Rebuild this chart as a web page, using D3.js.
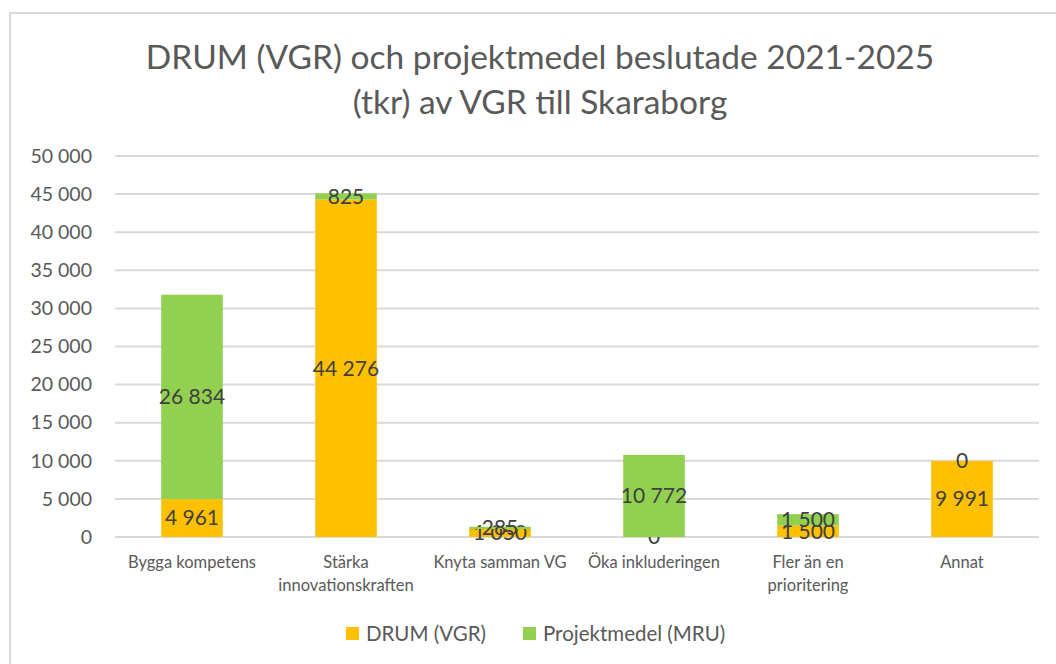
<!DOCTYPE html>
<html>
<head>
<meta charset="utf-8">
<script src="https://cdn.jsdelivr.net/npm/d3@7"></script>
<style>
  body { margin: 0; background: #fff; }
  text { font-family: Lato, "Open Sans", sans-serif; }
</style>
</head>
<body>
<div id="chart"></div>
<script>
(function() {
  var width = 1056,
      height = 664;

  // data (tkr)
  var categories = ["Bygga kompetens", "Stärka innovationskraften", "Knyta samman VG",
                    "Öka inkluderingen", "Fler än en prioritering", "Annat"];
  var drum = [4961, 44276, 1050, 0, 1500, 9991];
  var projektmedel = [26834, 825, 285, 10772, 1500, 0];
  var seriesNames = ["DRUM (VGR)", "Projektmedel (MRU)"];
  var colors = ["#FFC000", "#92D050"];
  var yTicks = [0, 5000, 10000, 15000, 20000, 25000, 30000, 35000, 40000, 45000, 50000];

  var locale = d3.formatLocale({decimal: ",", thousands: "\u00a0", grouping: [3], currency: ["", " kr"]});
  var fmt = locale.format(",d");

  var svg = d3.select("#chart")
    .append("svg")
    .attr("width", width)
    .attr("height", height);

  // chart area border
  svg.append("rect")
    .attr("x", 10)
    .attr("y", 13)
    .attr("width", 1080)
    .attr("height", 700)
    .attr("fill", "#fff")
    .attr("stroke", "#D9D9D9")
    .attr("stroke-width", 2);

  // title
  var title = svg.append("text")
    .attr("text-anchor", "middle")
    .attr("fill", "#595959")
    .style("font-size", "33.5px");
  title.append("tspan").attr("x", 540).attr("y", 69).text("DRUM (VGR) och projektmedel  beslutade 2021-2025");
  title.append("tspan").attr("x", 540).attr("y", 114).text("(tkr) av VGR till Skaraborg");

  var x = d3.scaleBand()
    .domain(categories)
    .range([115, 1039])
    .paddingInner(0.6)
    .paddingOuter(0.3);

  var y = d3.scaleLinear()
    .domain([0, 50000])
    .range([537, 156]);

  // gridlines
  svg.append("g")
    .selectAll("line")
    .data(yTicks)
    .enter().append("line")
    .attr("x1", 115)
    .attr("x2", 1039)
    .attr("y1", function(d) { return y(d) })
    .attr("y2", function(d) { return y(d) })
    .attr("stroke", "#D9D9D9")
    .attr("stroke-width", 2);

  // y axis labels
  var yAxis = svg.append("g")
    .attr("transform", "translate(100,0)")
    .call(d3.axisLeft(y).tickValues(yTicks).tickFormat(fmt).tickSize(0).tickPadding(8));
  yAxis.select(".domain").remove();
  yAxis.selectAll("text")
    .attr("fill", "#595959")
    .style("font-size", "19.5px")
    .style("font-family", "Lato, sans-serif");

  // stacked data
  var rows = categories.map(function(c, i) {
    return {cat: c, drum: drum[i], proj: projektmedel[i]};
  });
  var stack = d3.stack().keys(["drum", "proj"])(rows);

  var layers = svg.append("g")
    .selectAll("g")
    .data(stack)
    .enter().append("g")
    .attr("fill", function(d, i) { return colors[i] });

  layers.selectAll("rect")
    .data(function(d) { return d })
    .enter().append("rect")
    .attr("x", function(d) { return x(d.data.cat) })
    .attr("width", x.bandwidth())
    .attr("y", function(d) { return y(d[1]) })
    .attr("height", function(d) { return y(d[0]) - y(d[1]) });

  // data labels
  layers.selectAll("text")
    .data(function(d) { return d })
    .enter().append("text")
    .attr("x", function(d) { return x(d.data.cat) + x.bandwidth() / 2 })
    .attr("y", function(d) { return (y(d[0]) + y(d[1])) / 2 })
    .attr("dy", "0.35em")
    .attr("text-anchor", "middle")
    .attr("fill", "#404040")
    .style("font-size", "21px")
    .text(function(d) { return fmt(d[1] - d[0]) });

  // category labels, wrapped
  var catLabels = svg.append("g")
    .selectAll("text")
    .data(categories)
    .enter().append("text")
    .attr("text-anchor", "middle")
    .attr("fill", "#595959")
    .style("font-size", "16.5px")
    .attr("y", 568);

  catLabels.each(function(d) {
    var t = d3.select(this),
        cx = x(d) + x.bandwidth() / 2,
        words = d.split(" "),
        line = [],
        lines = [];
    words.forEach(function(w) {
      line.push(w);
      t.text(line.join(" "));
      if (textLen(t) > 150 && line.length > 1) {
        line.pop();
        lines.push(line.join(" "));
        line = [w];
      }
    });
    lines.push(line.join(" "));
    t.text(null);
    lines.forEach(function(l, i) {
      t.append("tspan").attr("x", cx).attr("dy", i ? 23 : 0).text(l);
    });
  });

  function textLen(sel) {
    return sel.node().getComputedTextLength();
  }

  // legend
  var legend = svg.append("g")
    .selectAll("g")
    .data(seriesNames)
    .enter().append("g")
    .attr("transform", function(d, i) { return "translate(" + [346, 523][i] + ",627)" });

  legend.append("rect")
    .attr("width", 13)
    .attr("height", 13)
    .attr("fill", function(d, i) { return colors[i] });

  legend.append("text")
    .attr("x", 20)
    .attr("y", 6.5)
    .attr("dy", "0.35em")
    .attr("fill", "#595959")
    .style("font-size", "20.5px")
    .text(function(d) { return d });
})();
</script>
</body>
</html>
